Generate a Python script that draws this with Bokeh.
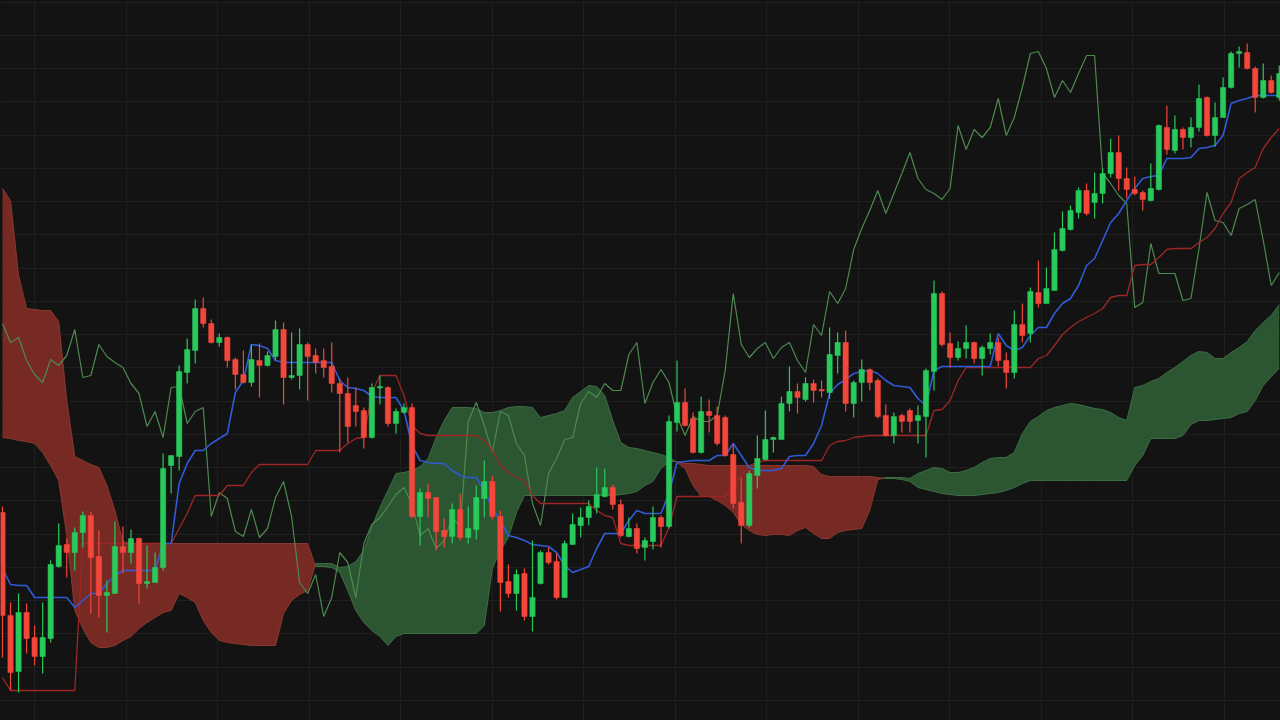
import numpy as np
from jinja2 import Template
from bokeh.plotting import figure
from bokeh.models import Range1d, FixedTicker
from bokeh.embed import file_html
from bokeh.resources import INLINE

# ---------------- data (price units) ----------------
open_ = [
    208, 105, 49, 108, 83, 64, 82, 154, 176, 168,
    188, 205, 164, 125, 127, 174, 168, 182, 137, 138,
    153, 255, 264, 348, 370, 412, 397, 378, 383, 361,
    346, 338, 360, 355, 364, 391, 343, 345, 376, 365,
    360, 354, 337, 327, 315, 310, 283, 333, 333, 297,
    308, 313, 204, 228, 223, 190, 184, 211, 183, 191,
    222, 239, 204, 139, 127, 147, 104, 137, 168, 159,
    123, 176, 195, 203, 213, 224, 233, 216, 184, 192,
    173, 179, 203, 194, 298, 318, 302, 268, 309, 305,
    303, 266, 218, 195, 245, 261, 281, 281, 317, 329,
    321, 337, 331, 328, 365, 378, 317, 338, 351, 340,
    305, 285, 305, 310, 300, 304, 349, 427, 377, 363,
    372, 378, 362, 372, 378, 360, 348, 396, 387, 428,
    417, 430, 470, 491, 508, 530, 518, 527, 547, 568,
    542, 531, 528, 520, 531, 593, 570, 591, 583, 593,
    623, 585, 603, 633, 667, 668, 652, 623, 640, 623,
]
high = [
    214, 118, 127, 117, 95, 118, 160, 197, 182, 193,
    209, 209, 190, 140, 199, 194, 191, 183, 175, 168,
    267, 265, 355, 382, 421, 423, 401, 387, 384, 363,
    370, 376, 377, 369, 400, 398, 388, 392, 378, 372,
    372, 378, 342, 343, 333, 313, 337, 345, 334, 312,
    317, 317, 232, 237, 223, 202, 217, 227, 214, 235,
    260, 245, 210, 156, 151, 152, 180, 170, 173, 167,
    180, 207, 213, 220, 253, 252, 236, 221, 203, 197,
    183, 214, 205, 305, 360, 332, 308, 324, 321, 314,
    305, 277, 243, 250, 285, 310, 284, 324, 354, 337,
    343, 341, 340, 393, 388, 390, 340, 361, 352, 342,
    316, 308, 307, 312, 315, 352, 440, 429, 388, 379,
    395, 379, 375, 387, 383, 368, 410, 417, 433, 460,
    453, 488, 509, 515, 533, 537, 548, 552, 582, 585,
    553, 544, 530, 557, 596, 615, 605, 593, 603, 636,
    624, 618, 643, 669, 674, 677, 654, 657, 645, 655,
]
low = [
    63, 30, 28, 67, 55, 47, 78, 153, 143, 150,
    173, 107, 103, 88, 127, 147, 157, 117, 132, 138,
    150, 227, 250, 337, 357, 393, 377, 374, 353, 331,
    337, 334, 323, 354, 360, 316, 341, 331, 320, 347,
    343, 328, 268, 278, 294, 272, 282, 316, 294, 287,
    307, 202, 175, 203, 170, 173, 177, 180, 177, 181,
    203, 201, 109, 123, 110, 100, 89, 136, 156, 121,
    123, 176, 183, 195, 207, 223, 211, 183, 183, 167,
    160, 171, 173, 192, 289, 294, 267, 267, 288, 275,
    264, 212, 177, 193, 232, 260, 268, 281, 309, 307,
    319, 318, 323, 322, 347, 309, 303, 319, 330, 302,
    284, 277, 288, 288, 277, 263, 330, 374, 353, 360,
    362, 357, 345, 366, 354, 332, 342, 378, 378, 413,
    417, 430, 469, 490, 502, 505, 502, 517, 543, 530,
    522, 525, 510, 519, 530, 566, 567, 571, 573, 589,
    584, 574, 603, 632, 653, 651, 608, 622, 627, 620,
]
close = [
    105, 48, 108, 82, 64, 83, 156, 175, 168, 188,
    205, 163, 125, 128, 174, 168, 182, 137, 139, 153,
    252, 265, 349, 371, 412, 397, 378, 383, 360, 346,
    338, 361, 355, 365, 391, 343, 345, 376, 364, 358,
    353, 337, 327, 294, 309, 283, 333, 334, 297, 309,
    313, 204, 228, 222, 189, 184, 211, 183, 192, 223,
    239, 204, 138, 127, 146, 104, 123, 168, 158, 123,
    177, 196, 203, 214, 226, 233, 216, 185, 192, 172,
    180, 203, 194, 299, 318, 295, 268, 309, 305, 277,
    265, 217, 195, 247, 262, 281, 283, 317, 329, 323,
    337, 330, 330, 366, 378, 317, 338, 351, 338, 304,
    285, 304, 299, 299, 305, 350, 427, 376, 363, 372,
    378, 362, 373, 378, 360, 348, 396, 385, 429, 417,
    432, 471, 492, 510, 530, 507, 527, 547, 568, 542,
    531, 527, 521, 532, 595, 571, 591, 583, 593, 622,
    585, 603, 633, 667, 669, 652, 623, 640, 628, 647,
]
# closes of the periods that follow the visible window (seen only in the lagging line)
later_close = [665, 665, 547, 537, 525, 517, 413, 418, 477, 447,
               447, 447, 420, 422, 472, 528, 500, 498, 485, 512,
               516, 521, 480, 435, 448]
tenkan = [
    152, 136, 135, 135, 123, 123, 123, 123, 123, 113,
    120, 127, 127, 137, 145, 150, 150, 150, 150, 150,
    177, 177, 237, 257, 270, 270, 277, 282, 287, 328,
    340, 376, 375, 372, 360, 358, 358, 358, 358, 358,
    358, 358, 340, 333, 332, 330, 324, 323, 323, 323,
    310, 275, 260, 258, 257, 257, 250, 245, 243, 243,
    230, 212, 200, 185, 183, 180, 176, 175, 174, 168,
    155, 148, 151, 154, 172, 187, 187, 187, 200, 210,
    207, 207, 207, 227, 258, 259, 260, 260, 260, 265,
    265, 277, 265, 253, 250, 250, 250, 252, 264, 265,
    265, 277, 295, 327, 336, 341, 347, 349, 350, 347,
    340, 335, 334, 333, 322, 315, 350, 354, 354, 354,
    354, 354, 354, 354, 387, 375, 370, 373, 385, 393,
    393, 407, 417, 422, 435, 455, 462, 480, 498, 507,
    520, 532, 542, 544, 545, 562, 562, 562, 563, 572,
    573, 575, 585, 617, 620, 622, 625, 625, 625, 625,
]
kijun = [
    43, 30, 30, 30, 30, 30, 30, 30, 30, 30,
    177, 177, 177, 177, 177, 177, 177, 177, 177, 177,
    177, 177, 192, 207, 225, 225, 225, 225, 235, 235,
    235, 248, 256, 256, 256, 256, 256, 256, 256, 270,
    270, 270, 270, 277, 282, 283, 328, 345, 345, 345,
    325, 295, 287, 285, 285, 285, 285, 285, 285, 285,
    280, 270, 255, 248, 243, 240, 225, 217, 217, 217,
    217, 217, 217, 217, 210, 205, 203, 177, 175, 175,
    175, 175, 175, 193, 224, 224, 224, 224, 224, 224,
    224, 235, 245, 255, 258, 260, 260, 260, 260, 260,
    260, 260, 260, 275, 279, 280, 283, 284, 285, 285,
    285, 285, 285, 285, 285, 285, 310, 311, 320, 340,
    353, 353, 353, 353, 353, 353, 353, 353, 353, 362,
    365, 375, 386, 393, 399, 403, 407, 412, 423, 425,
    425, 455, 456, 456, 463, 471, 472, 472, 472, 478,
    483, 492, 507, 518, 542, 548, 553, 572, 583, 592,
]
span_a = [
    283, 282, 280, 279, 277, 268, 255, 240, 185, 110,
    92, 78, 73, 73, 75, 80, 84, 92, 98, 103,
    108, 110, 127, 123, 118, 100, 88, 80, 78, 77,
    76, 75, 75, 75, 75, 107, 120, 126, 130, 157,
    157, 157, 153, 154, 159, 170, 194, 213, 230, 247,
    248, 250, 254, 262, 283, 300, 313, 313, 313, 312,
    308, 308, 310, 313, 314, 314, 313, 303, 305, 307,
    310, 323, 329, 335, 334, 325, 300, 278, 273, 272,
    270, 268, 266, 263, 258, 252, 235, 224, 224, 220,
    215, 208, 196, 190, 186, 185, 186, 186, 185, 190,
    193, 187, 182, 182, 188, 190, 191, 192, 210, 241,
    243, 243, 243, 242, 247, 250, 253, 252, 248, 248,
    250, 253, 258, 262, 263, 263, 268, 287, 299, 304,
    310, 313, 315, 317, 316, 314, 312, 311, 308, 303,
    300, 333, 335, 339, 342, 348, 353, 359, 365, 369,
    368, 362, 362, 368, 373, 379, 390, 398, 405, 416,
]
span_b = [
    532, 520, 445, 412, 411, 410, 410, 399, 320, 264,
    260, 256, 253, 235, 210, 179, 177, 177, 177, 177,
    177, 177, 177, 177, 177, 177, 177, 177, 177, 177,
    177, 177, 177, 177, 177, 177, 177, 177, 177, 154,
    154, 153, 148, 130, 110, 98, 90, 84, 75, 84,
    87, 87, 87, 87, 87, 87, 87, 87, 87, 87,
    95, 152, 170, 183, 208, 225, 225, 225, 225, 225,
    225, 225, 225, 225, 225, 225, 225, 226, 227, 229,
    235, 239, 252, 259, 259, 257, 257, 256, 255, 255,
    255, 255, 255, 255, 255, 255, 255, 255, 255, 255,
    255, 254, 246, 244, 244, 244, 244, 244, 244, 243,
    242, 242, 241, 239, 233, 231, 229, 227, 226, 225,
    225, 225, 226, 227, 228, 230, 233, 237, 240, 240,
    240, 240, 240, 240, 240, 240, 240, 240, 240, 240,
    240, 255, 265, 282, 282, 282, 282, 285, 296, 300,
    300, 301, 302, 303, 307, 309, 320, 335, 344, 352,
]

n = len(close)
for arr in (open_, high, low, tenkan, kijun, span_a, span_b):
    assert len(arr) == n, len(arr)
chikou = close[25:] + later_close
assert len(chikou) == n

BG = "#131313"
GRID = "#1f1f1f"
UP = "#29c95b"
DOWN = "#f4473b"
CLOUD_UP = "#2c5532"
CLOUD_DOWN = "#772a24"
EDGE_UP = "#3c6e43"
EDGE_DOWN = "#8a3830"
TENKAN_C = "#2f5bd6"
KIJUN_C = "#9e2626"
CHIKOU_C = "#4d8a4f"

idx = np.arange(n)

p = figure(width=1280, height=720,
           x_range=Range1d(-0.249, 159.15), y_range=Range1d(0, 720),
           output_backend="svg", toolbar_location=None,
           x_axis_location=None, y_axis_location=None, min_border=0,
           background_fill_color=BG, border_fill_color=BG, outline_line_color=None)

# grid
p.xgrid.ticker = FixedTicker(ticks=[3.98 + 11.4 * k for k in range(15)])
p.ygrid.ticker = FixedTicker(ticks=[718.3 - 33.25 * k for k in range(22)])
p.grid.grid_line_color = GRID
p.grid.grid_line_width = 1

# ---------------- cloud ----------------
A = np.array(span_a, float)
B = np.array(span_b, float)
d = A - B
X, YA, YB = [], [], []
for i in range(n):
    X.append(float(i)); YA.append(A[i]); YB.append(B[i])
    if i < n - 1 and d[i] * d[i + 1] < 0:
        t = d[i] / (d[i] - d[i + 1])
        yc = A[i] + t * (A[i + 1] - A[i])
        X.append(i + t); YA.append(yc); YB.append(yc)
X = np.array(X); YA = np.array(YA); YB = np.array(YB)
top = np.maximum(YA, YB)
p.varea(x=X, y1=YB, y2=top, fill_color=CLOUD_UP, fill_alpha=1.0)
p.varea(x=X, y1=YA, y2=top, fill_color=CLOUD_DOWN, fill_alpha=1.0)

seg_up = (YA[:-1] + YA[1:]) >= (YB[:-1] + YB[1:])
edge_cols = [EDGE_UP if u else EDGE_DOWN for u in seg_up]
for Y in (YA, YB):
    p.segment(x0=X[:-1], y0=Y[:-1], x1=X[1:], y1=Y[1:], line_color=edge_cols, line_width=1)

# ---------------- lines ----------------
p.line(idx, chikou, line_color=CHIKOU_C, line_width=1.2)
p.line(idx, kijun, line_color=KIJUN_C, line_width=1.3)
p.line(idx, tenkan, line_color=TENKAN_C, line_width=1.6)

# ---------------- candles ----------------
o = np.array(open_, float); c = np.array(close, float)
h = np.array(high, float); l = np.array(low, float)
cols = [UP if cc >= oo else DOWN for oo, cc in zip(o, c)]
body_top = np.maximum(o, c)
body_bot = np.minimum(o, c)
body_bot = np.where(body_top - body_bot < 1.5, body_top - 1.5, body_bot)
p.segment(x0=idx, y0=h, x1=idx, y1=l, line_color=cols, line_width=1.2)
p.vbar(x=idx, width=0.66, top=body_top, bottom=body_bot, fill_color=cols, line_color=cols, line_width=0.5)

TEMPLATE = Template("""{% extends base %}
{% block preamble %}<style>html, body { margin: 0 !important; padding: 0 !important; background: #131313; overflow: hidden; }</style>{% endblock %}""")

open("out.html", "w").write(file_html(p, INLINE, title="Ichimoku", template=TEMPLATE))
